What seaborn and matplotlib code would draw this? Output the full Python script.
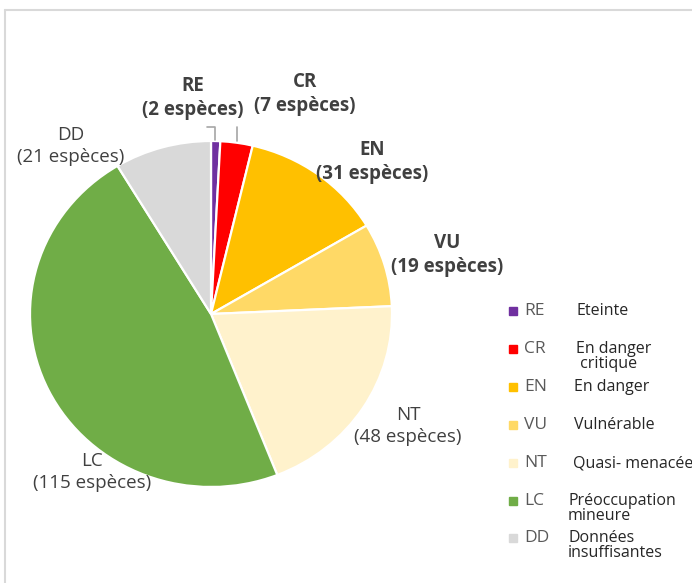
import matplotlib
matplotlib.use("Agg")
import matplotlib.pyplot as plt
import seaborn as sns
from matplotlib.lines import Line2D
from matplotlib.patches import Rectangle

# ? Dados
codes = ["RE", "CR", "EN", "VU", "NT", "LC", "DD"]
counts = [2, 7, 31, 19, 48, 115, 21]
descriptions = ["Eteinte", "En danger\n critique", "En danger", "Vulnérable",
                "Quasi- menacée", "Préoccupation\nmineure", "Données\ninsuffisantes"]
colors = ["#7030A0", "#FF0000", "#FFC000", "#FFD966", "#FFF2CC", "#70AD47", "#D9D9D9"]
bold_codes = ["RE", "CR", "EN", "VU"]

W, H = 692, 583
sns.set_theme(style="white")
plt.rcParams["font.family"] = ["Open Sans", "DejaVu Sans"]

fig = plt.figure(figsize=(W / 100, H / 100), dpi=100)


def px(x, y):
    return x / W, 1 - y / H


# ? Pizza (centro ~ (211, 314), raios 181 x 173 px)
ax = fig.add_axes([30 / W, 1 - 487 / H, 362 / W, 346 / H])
ax.pie(counts, colors=colors, startangle=90, counterclock=False,
       wedgeprops=dict(edgecolor="white", linewidth=1.6))
ax.set_aspect("auto")
ax.set_xlim(-1, 1)
ax.set_ylim(-1, 1)
ax.axis("off")

# ? Rótulos das fatias
label_pos = {"RE": (193, 98), "CR": (305, 94), "EN": (372, 162), "VU": (447, 255),
             "NT": (408, 426), "LC": (92, 472), "DD": (71, 146)}
for code, n in zip(codes, counts):
    x, y = px(*label_pos[code])
    fig.text(x, y, f"{code}\n({n} espèces)", ha="center", va="center",
             fontsize=13.5, color="#404040", linespacing=1.3,
             fontweight="bold" if code in bold_codes else "normal")

# linhas de chamada
lc = "#A6A6A6"
for xs, ys in [([207, 215, 215], [127, 127, 140]), ([237, 237], [127, 141])]:
    fig.add_artist(Line2D([x / W for x in xs], [1 - y / H for y in ys],
                          color=lc, lw=1.2))

# ? Legenda
leg_y = [311, 349, 387, 425, 463, 501, 538]
desc_x = [577, 576, 574, 574, 573, 568, 568]
for code, desc, c, y, dx in zip(codes, descriptions, colors, leg_y, desc_x):
    x0, y0 = px(509, y + 4)
    fig.add_artist(Rectangle((x0, y0), 8 / W, 8 / H, color=c,
                             transform=fig.transFigure))
    fig.text(*px(524, y), code, ha="left", va="center", fontsize=12.5, color="#595959")
    if "\n" in desc:
        fig.text(*px(dx, y - 8), desc, ha="left", va="top", fontsize=11.5,
                 color="#262626", linespacing=0.9)
    else:
        fig.text(*px(dx, y), desc, ha="left", va="center", fontsize=11.5,
                 color="#262626")

# ? Borda
bc = "#D9D9D9"
fig.add_artist(Line2D([4.5 / W, 1], [1 - 10 / H, 1 - 10 / H], color=bc, lw=1.5))
fig.add_artist(Line2D([4.5 / W, 4.5 / W], [0, 1 - 10 / H], color=bc, lw=1.5))

fig.savefig("out.png", dpi=100)
